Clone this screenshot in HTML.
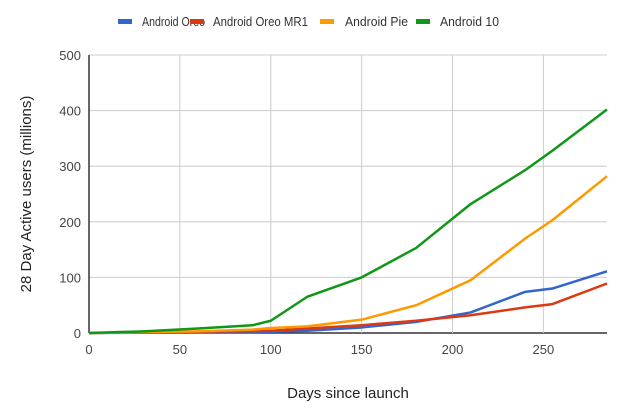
<!DOCTYPE html>
<html><head><meta charset="utf-8"><style>
body{margin:0;background:#fff;font-family:"Liberation Sans",sans-serif}
svg text{font-family:"Liberation Sans",sans-serif}
</style></head><body>
<svg width="640" height="415">
<g id="grid"></g><g id="series"></g><g id="legend"></g>
<text x="0" y="0" transform="translate(31,194) rotate(-90)" text-anchor="middle" font-size="15" fill="#222">28 Day Active users (millions)</text>
<text x="348" y="398" text-anchor="middle" font-size="15" fill="#222">Days since launch</text>
</svg>
<script>
const xTicks=[0,50,100,150,200,250];
const yTicks=[0,100,200,300,400,500];
const names=["Android Oreo","Android Oreo MR1","Android Pie","Android 10"];
const colors=["#3366cc","#dc3912","#ff9900","#109618"];
const oreoX=[0,100,120,150,180,210,240,255,285];
const oreoY=[0,2,4,10,20,37,74,80,111];
const mr1X=[0,100,120,150,180,210,240,255,285];
const mr1Y=[0,4,8,14,22,32,46,52,89];
const pieX=[0,60,90,100,120,150,180,210,240,255,285];
const pieY=[0,3,6,9,12,24,50,95,170,203,282];
const q10X=[0,30,60,90,100,120,150,180,210,240,255,285];
const q10Y=[0,3,8,14,22,65,100,153,232,293,328,402];
const NS="http://www.w3.org/2000/svg";
const X0=89,X1=607,XMAX=285,Y0=333,Y1=55,YMAX=500;
const sx=v=>X0+(X1-X0)*v/XMAX, sy=v=>Y0-(Y0-Y1)*v/YMAX;
function mk(t,a,p){const e=document.createElementNS(NS,t);for(const k in a)e.setAttribute(k,a[k]);p.appendChild(e);return e;}
const g=document.getElementById('grid');
yTicks.forEach(v=>{const l=mk('line',{x1:X0,x2:X1,y1:sy(v),y2:sy(v),stroke:v?'#ccc':'#333','stroke-width':v?1:1.5},g);

const t=mk('text',{x:X0-8,y:sy(v)+5,'text-anchor':'end','font-size':13,fill:'#444'},g);t.textContent=v;
});
xTicks.forEach(v=>{const l=mk('line',{x1:sx(v),x2:sx(v),y1:Y1,y2:Y0,stroke:v?'#ccc':'#333','stroke-width':v?1:1.5},g);

const t=mk('text',{x:sx(v),y:Y0+21,'text-anchor':'middle','font-size':13,fill:'#444'},g);t.textContent=v;
});
const S=document.getElementById('series');
[[oreoX,oreoY],[mr1X,mr1Y],[pieX,pieY],[q10X,q10Y]].forEach((d,i)=>{
const p=mk('polyline',{points:d[0].map((x,j)=>sx(x)+','+sy(d[1][j])).join(' '),fill:'none',stroke:colors[i],'stroke-width':2.5,'stroke-linejoin':'round'},S);
});
const L=document.getElementById('legend');const lx=[118,190,320,416];const tx=[142,213,345,440];const tw=[63,95,63,59];
names.forEach((n,i)=>{const gg=mk('g',{},L);

mk('rect',{x:lx[i],y:19,width:14,height:5,fill:colors[i]},gg);
const t=mk('text',{x:tx[i],y:26,'font-size':13,fill:'#333',textLength:tw[i],lengthAdjust:'spacingAndGlyphs'},gg);t.textContent=n;});
</script>
</body></html>
